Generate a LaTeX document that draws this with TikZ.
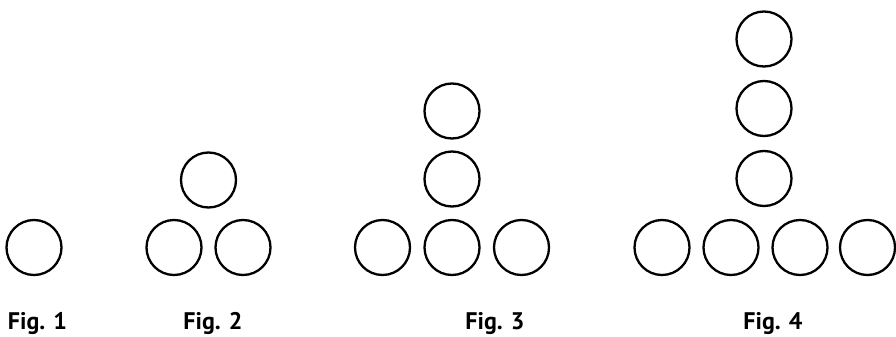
\documentclass[tikz,border=0pt]{standalone}
\usepackage{fontspec}
\setmainfont{PT Sans}
\begin{document}
\begin{tikzpicture}[x=1pt,y=-1pt,
  ball/.style={circle,draw=black,line width=2.3pt,minimum size=55pt,inner sep=0pt},
  figlabel/.style={anchor=base,font=\bfseries\fontsize{24}{28}\selectfont,inner sep=0pt}]
\useasboundingbox (0,0) rectangle (896,337);
% Fig 1
\node[ball] (a1) at (34,247.5) {};
% Fig 2
\node[ball] (b1) at (174,247.5) {};
\node[ball] (b2) at (243,247.5) {};
\node[ball] (b3) at (208.5,180) {};
% Fig 3
\node[ball] (c1) at (382.5,247.5) {};
\node[ball] (c2) at (452,247.5) {};
\node[ball] (c3) at (521.5,247.5) {};
\node[ball] (c4) at (452,179) {};
\node[ball] (c5) at (452,111) {};
% Fig 4
\node[ball] (d1) at (662,247.5) {};
\node[ball] (d2) at (731,247.5) {};
\node[ball] (d3) at (800,247.5) {};
\node[ball] (d4) at (867.5,247.5) {};
\node[ball] (d5) at (764,178.5) {};
\node[ball] (d6) at (764,108.5) {};
\node[ball] (d7) at (764,39) {};
% labels
\node[figlabel] (l1) at (37.5,329) {Fig. 1};
\node[figlabel] (l2) at (213,329) {Fig. 2};
\node[figlabel] (l3) at (495,329) {Fig. 3};
\node[figlabel] (l4) at (773,329) {Fig. 4};
\end{tikzpicture}
\end{document}
